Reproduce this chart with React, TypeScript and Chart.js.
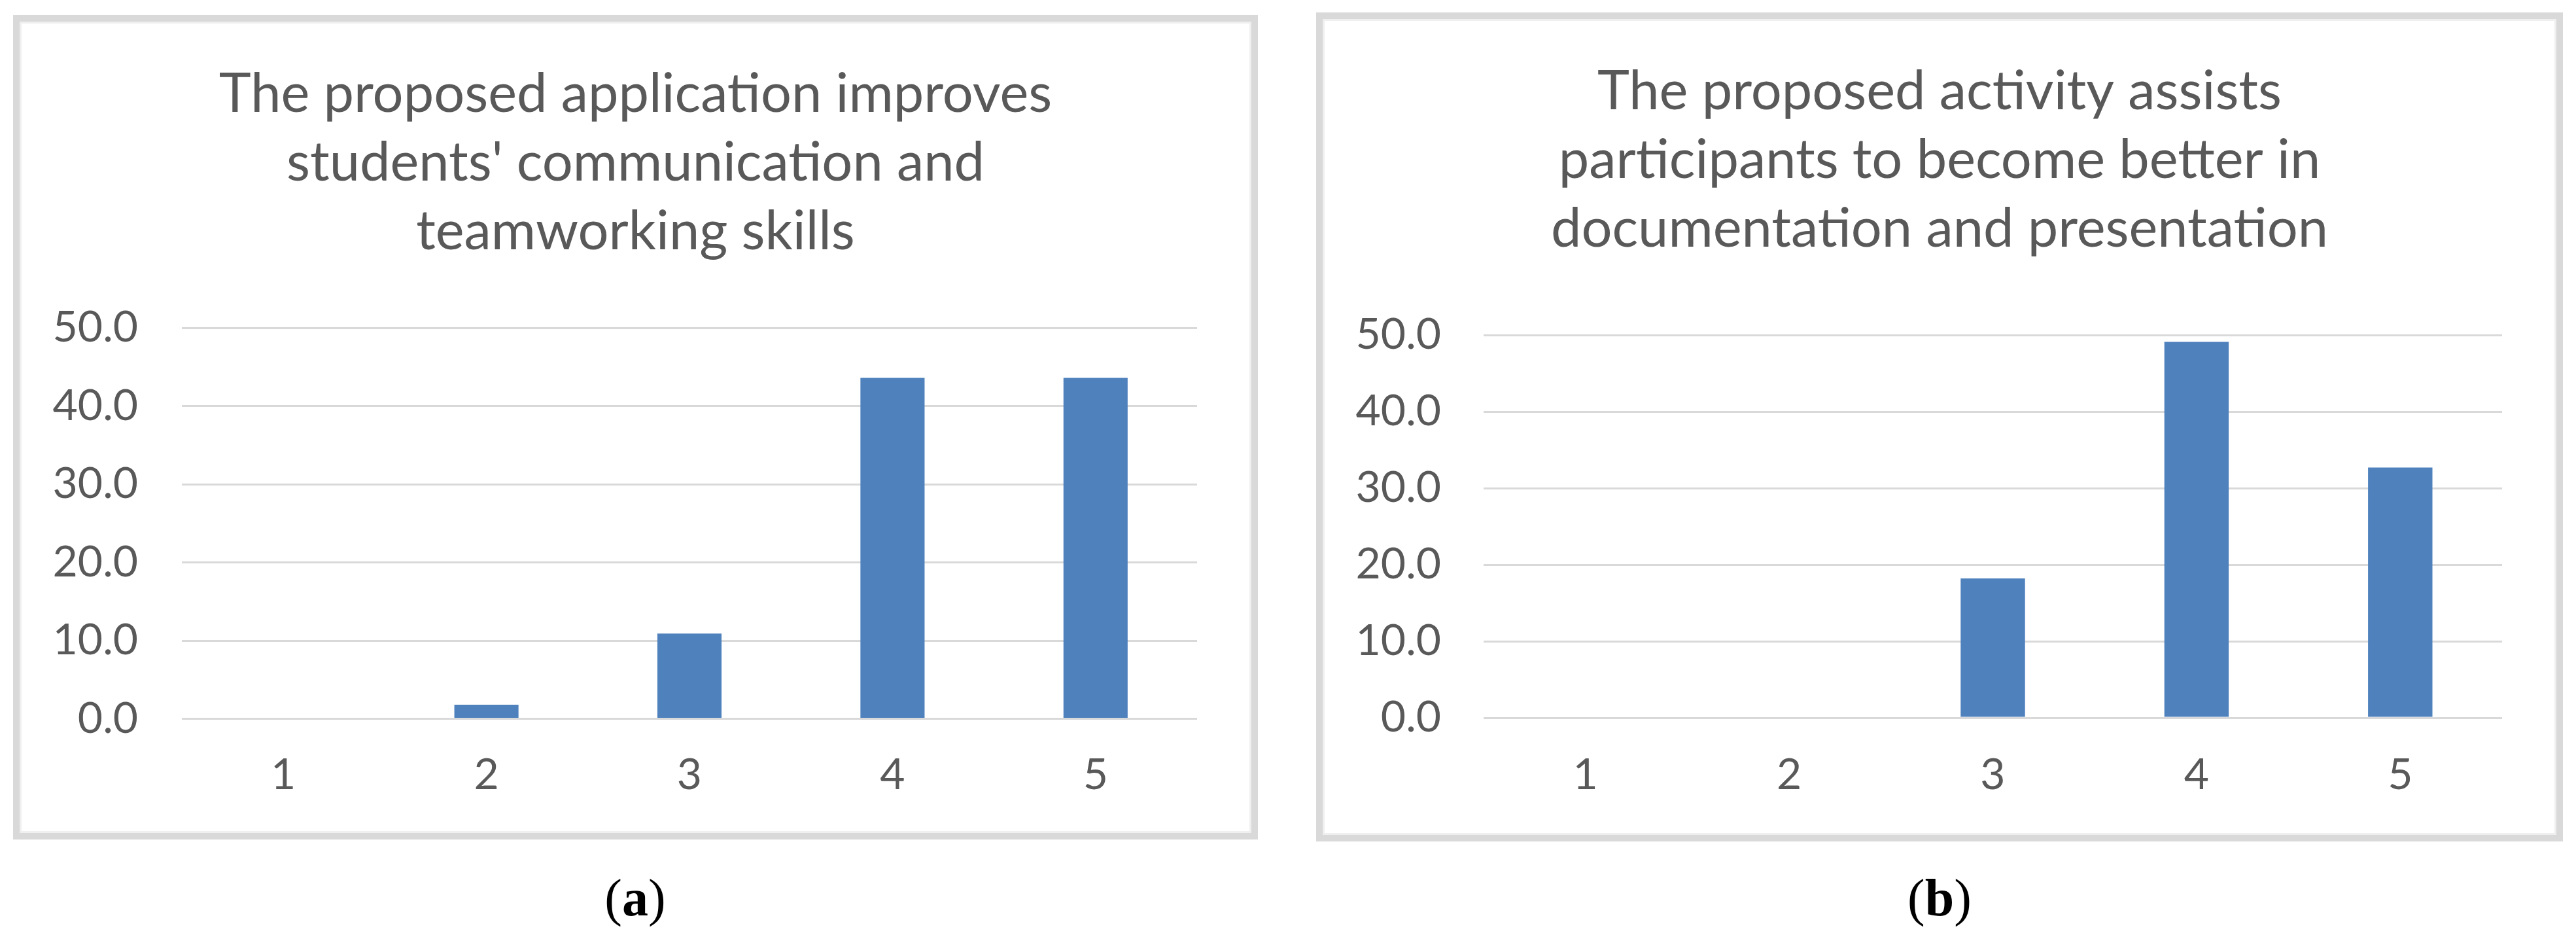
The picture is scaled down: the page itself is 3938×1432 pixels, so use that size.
import React, { useEffect, useRef } from 'react';
import { Chart, registerables } from 'chart.js';

Chart.register(...registerables);

// ---------- data ----------
const categories = ['1', '2', '3', '4', '5'];
const valuesA = [0, 1.8, 10.9, 43.6, 43.6];
const valuesB = [0, 0, 18.2, 49.1, 32.7];
const yTicks = [0, 10, 20, 30, 40, 50];
const titleA = ['The proposed application improves', "students' communication and", 'teamworking skills'];
const titleB = ['The proposed activity assists', 'participants to become better in', 'documentation and presentation'];
const captionA = 'a';
const captionB = 'b';

// ---------- styles ----------
const BAR = '#4F81BD';
const TEXT = '#595959';
const GRID = '#D9D9D9';
const FONT = 'Lato, "Open Sans", sans-serif';
const TITLE_SIZE = 83;
const TITLE_BASELINES = [138, 243, 348]; // canvas px, alphabetic baseline of each title line

type Cfg = {
  left: number; top: number; width: number; height: number;
  padTop: number; padRight: number; padBottom: number; yAxisW: number; xAxisH: number;
  yPad: number; xPad: number;
};

const cfgA: Cfg = {
  left: 20, top: 23, width: 1903, height: 1260,
  padTop: 468, padRight: 83, padBottom: 54.5, yAxisW: 248, xAxisH: 120,
  yPad: 67, xPad: 47,
};
const cfgB: Cfg = {
  left: 2012, top: 19, width: 1906, height: 1267,
  padTop: 483, padRight: 83, padBottom: 59, yAxisW: 246, xAxisH: 120,
  yPad: 65, xPad: 48,
};

// Draws the multi-line chart title centred on the whole chart (Excel style)
const panelTitlePlugin = {
  id: 'panelTitle',
  afterDraw(chart: any, _args: any, opts: any) {
    const { ctx, width } = chart;
    ctx.save();
    ctx.font = `normal ${opts.size}px ${FONT}`;
    ctx.fillStyle = opts.color;
    ctx.textAlign = 'center';
    ctx.textBaseline = 'alphabetic';
    (opts.lines as string[]).forEach((line, i) => ctx.fillText(line, width / 2, opts.baselines[i]));
    ctx.restore();
  },
};

function BarPanel({ cfg, title, values }: { cfg: Cfg; title: string[]; values: number[] }) {
  const ref = useRef<HTMLCanvasElement>(null);
  const border = 10;
  const cw = cfg.width - 2 * border;
  const ch = cfg.height - 2 * border;
  useEffect(() => {
    const chart = new Chart(ref.current!, {
      type: 'bar',
      data: {
        labels: categories,
        datasets: [{
          data: values,
          backgroundColor: BAR,
          borderWidth: 0,
          barPercentage: 0.316,
          categoryPercentage: 1,
        }],
      },
      plugins: [panelTitlePlugin],
      options: {
        responsive: false,
        animation: false,
        devicePixelRatio: 1,
        layout: { padding: { left: 0, right: cfg.padRight, top: cfg.padTop, bottom: cfg.padBottom } },
        plugins: {
          legend: { display: false },
          tooltip: { enabled: false },
          title: { display: false },
          panelTitle: { lines: title, baselines: TITLE_BASELINES, size: TITLE_SIZE, color: TEXT },
        },
        scales: {
          x: {
            grid: { display: false, drawTicks: false },
            border: { display: false },
            ticks: { color: TEXT, font: { family: FONT, size: 66 }, padding: cfg.xPad, maxRotation: 0 },
            afterFit: (s: any) => { s.height = cfg.xAxisH; },
          },
          y: {
            min: yTicks[0],
            max: yTicks[yTicks.length - 1],
            ticks: {
              stepSize: yTicks[1] - yTicks[0],
              color: TEXT,
              font: { family: FONT, size: 66 },
              padding: cfg.yPad,
              callback: (v: any) => Number(v).toFixed(1),
            },
            grid: { color: GRID, lineWidth: 3, drawTicks: false },
            border: { display: false },
            afterFit: (s: any) => { s.width = cfg.yAxisW; },
          },
        },
      },
    } as any);
    return () => chart.destroy();
  }, []);
  return (
    <div style={{
      position: 'absolute', left: cfg.left, top: cfg.top, width: cfg.width, height: cfg.height,
      boxSizing: 'border-box', border: `${border}px solid #D9D9D9`, background: '#fff',
      boxShadow: 'inset 0 0 0 3px #EFEFEF',
    }}>
      <canvas ref={ref} width={cw} height={ch}
        style={{ position: 'absolute', left: 0, top: 0, width: cw, height: ch, display: 'block' }} />
    </div>
  );
}

function Caption({ cx, letter }: { cx: number; letter: string }) {
  return (
    <div style={{
      position: 'absolute', left: cx - 200, width: 400, top: 1332, textAlign: 'center',
      fontFamily: '"Liberation Serif", "Times New Roman", serif', fontSize: 80, lineHeight: 1, color: '#000',
    }}>
      (<b>{letter}</b>)
    </div>
  );
}

export default function App() {
  return (
    <div style={{ position: 'absolute', left: 0, top: 0, width: 3938, height: 1432, background: '#fff', overflow: 'hidden' }}>
      <BarPanel cfg={cfgA} title={titleA} values={valuesA} />
      <BarPanel cfg={cfgB} title={titleB} values={valuesB} />
      <Caption cx={971} letter={captionA} />
      <Caption cx={2965} letter={captionB} />
    </div>
  );
}
